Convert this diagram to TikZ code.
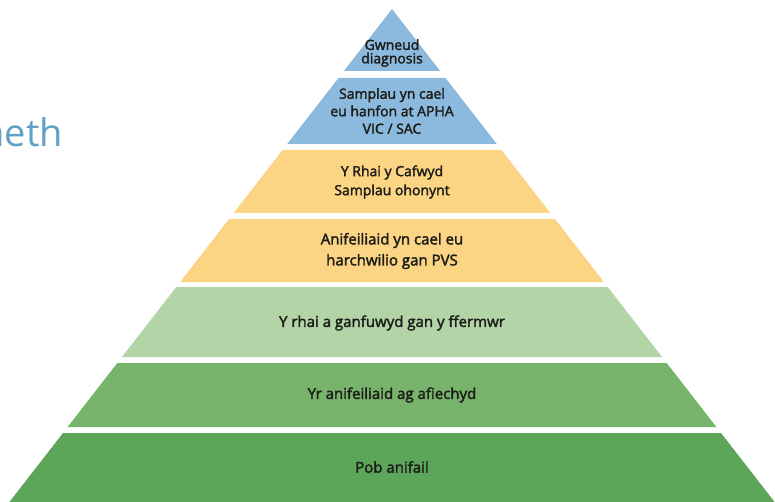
\documentclass[tikz,border=0pt]{standalone}
\usepackage{fontspec}
\setmainfont{Open Sans}[FakeBold=2.2]
\newfontfamily\titlefont{Open Sans}
\definecolor{blu}{RGB}{140,186,222}
\definecolor{ylw}{RGB}{251,212,132}
\definecolor{lgrn}{RGB}{178,212,166}
\definecolor{mgrn}{RGB}{119,179,107}
\definecolor{dgrn}{RGB}{92,166,90}
\definecolor{txt}{RGB}{28,28,24}
\definecolor{ttl}{RGB}{96,160,196}
\begin{document}
\begin{tikzpicture}[x=1pt,y=-1pt,
  lbl/.style={font=\fontsize{14}{13.5}\selectfont, text=txt, align=center, inner sep=0pt},
  lblsm/.style={font=\fontsize{15}{15}\selectfont, text=txt, align=center, inner sep=0pt}]
\useasboundingbox (0,0) rectangle (775,502);
\clip (0,0) rectangle (775,502);
\fill[white] (0,0) rectangle (775,502);
% layers
\fill[blu]  (392,9) -- (440.1,71) -- (343.9,71) -- cycle;
\fill[blu]  (338.5,78) -- (445.5,78) -- (496.8,144) -- (287.2,144) -- cycle;
\fill[ylw]  (282.6,150) -- (501.4,150) -- (550.3,213) -- (233.7,213) -- cycle;
\fill[ylw]  (229.0,219) -- (555.0,219) -- (603.8,282) -- (180.2,282) -- cycle;
\fill[lgrn] (176.3,287) -- (607.7,287) -- (662.0,357) -- (122.0,357) -- cycle;
\fill[mgrn] (117.3,363) -- (666.7,363) -- (716.4,427) -- (67.6,427) -- cycle;
\fill[dgrn] (63.0,433) -- (721.0,433) -- (774.6,502) -- (9.4,502) -- cycle;
% labels
\node[lbl] (l1) at (392,53) {Gwneud\\diagnosis};
\node[lbl,font=\fontsize{14}{17.5}\selectfont] (l2) at (392,111) {Samplau yn cael\\eu hanfon at APHA\\VIC / SAC};
\node[lbl,font=\fontsize{14}{19}\selectfont] (l3) at (392,182) {Y Rhai y Cafwyd\\Samplau ohonynt};
\node[lbl,font=\fontsize{15}{21}\selectfont] (l4) at (392,251) {Anifeiliaid yn cael eu\\harchwilio gan PVS};
\node[lblsm] (l5) at (392,323) {Y rhai a ganfuwyd gan y ffermwr};
\node[lblsm] (l6) at (392,395) {Yr anifeiliaid ag afiechyd};
\node[lblsm] (l7) at (392,467) {Pob anifail};
% partial title
\node[font=\titlefont\fontsize{38}{40}\selectfont, text=ttl, anchor=base east, inner sep=0pt] (title) at (63,147) {neth};
\end{tikzpicture}
\end{document}
